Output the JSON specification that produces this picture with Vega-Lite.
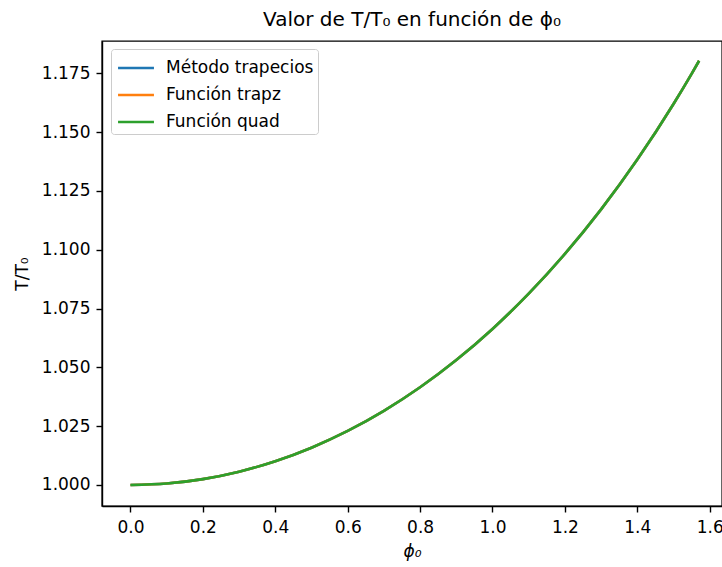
{
  "$schema": "https://vega.github.io/schema/vega-lite/v6.json",
  "autosize": {"type": "none"},
  "padding": {"left": 102, "top": 41, "right": 0, "bottom": 61},
  "width": 620,
  "height": 465,
  "background": "white",
  "title": {
    "text": "Valor de T/T₀ en función de ϕ₀",
    "font": "DejaVu Sans",
    "fontSize": 20,
    "fontWeight": "normal",
    "color": "black",
    "anchor": "middle",
    "baseline": "alphabetic",
    "offset": -5
  },
  "data": {
    "values": [
      {"phi": 0.0, "ratio": 1.0, "serie": "Método trapecios"},
      {"phi": 0.1, "ratio": 1.000625, "serie": "Método trapecios"},
      {"phi": 0.2, "ratio": 1.002506, "serie": "Método trapecios"},
      {"phi": 0.3, "ratio": 1.005654, "serie": "Método trapecios"},
      {"phi": 0.4, "ratio": 1.010093, "serie": "Método trapecios"},
      {"phi": 0.5, "ratio": 1.015853, "serie": "Método trapecios"},
      {"phi": 0.6, "ratio": 1.022975, "serie": "Método trapecios"},
      {"phi": 0.7, "ratio": 1.031514, "serie": "Método trapecios"},
      {"phi": 0.8, "ratio": 1.041531, "serie": "Método trapecios"},
      {"phi": 0.9, "ratio": 1.053106, "serie": "Método trapecios"},
      {"phi": 1.0, "ratio": 1.066334, "serie": "Método trapecios"},
      {"phi": 1.1, "ratio": 1.081324, "serie": "Método trapecios"},
      {"phi": 1.2, "ratio": 1.09821, "serie": "Método trapecios"},
      {"phi": 1.3, "ratio": 1.11715, "serie": "Método trapecios"},
      {"phi": 1.4, "ratio": 1.138326, "serie": "Método trapecios"},
      {"phi": 1.5, "ratio": 1.161966, "serie": "Método trapecios"},
      {"phi": 1.55, "ratio": 1.17479, "serie": "Método trapecios"},
      {"phi": 1.5708, "ratio": 1.18034, "serie": "Método trapecios"},
      {"phi": 0.0, "ratio": 1.0, "serie": "Función trapz"},
      {"phi": 0.1, "ratio": 1.000625, "serie": "Función trapz"},
      {"phi": 0.2, "ratio": 1.002506, "serie": "Función trapz"},
      {"phi": 0.3, "ratio": 1.005654, "serie": "Función trapz"},
      {"phi": 0.4, "ratio": 1.010093, "serie": "Función trapz"},
      {"phi": 0.5, "ratio": 1.015853, "serie": "Función trapz"},
      {"phi": 0.6, "ratio": 1.022975, "serie": "Función trapz"},
      {"phi": 0.7, "ratio": 1.031514, "serie": "Función trapz"},
      {"phi": 0.8, "ratio": 1.041531, "serie": "Función trapz"},
      {"phi": 0.9, "ratio": 1.053106, "serie": "Función trapz"},
      {"phi": 1.0, "ratio": 1.066334, "serie": "Función trapz"},
      {"phi": 1.1, "ratio": 1.081324, "serie": "Función trapz"},
      {"phi": 1.2, "ratio": 1.09821, "serie": "Función trapz"},
      {"phi": 1.3, "ratio": 1.11715, "serie": "Función trapz"},
      {"phi": 1.4, "ratio": 1.138326, "serie": "Función trapz"},
      {"phi": 1.5, "ratio": 1.161966, "serie": "Función trapz"},
      {"phi": 1.55, "ratio": 1.17479, "serie": "Función trapz"},
      {"phi": 1.5708, "ratio": 1.18034, "serie": "Función trapz"},
      {"phi": 0.0, "ratio": 1.0, "serie": "Función quad"},
      {"phi": 0.1, "ratio": 1.000625, "serie": "Función quad"},
      {"phi": 0.2, "ratio": 1.002506, "serie": "Función quad"},
      {"phi": 0.3, "ratio": 1.005654, "serie": "Función quad"},
      {"phi": 0.4, "ratio": 1.010093, "serie": "Función quad"},
      {"phi": 0.5, "ratio": 1.015853, "serie": "Función quad"},
      {"phi": 0.6, "ratio": 1.022975, "serie": "Función quad"},
      {"phi": 0.7, "ratio": 1.031514, "serie": "Función quad"},
      {"phi": 0.8, "ratio": 1.041531, "serie": "Función quad"},
      {"phi": 0.9, "ratio": 1.053106, "serie": "Función quad"},
      {"phi": 1.0, "ratio": 1.066334, "serie": "Función quad"},
      {"phi": 1.1, "ratio": 1.081324, "serie": "Función quad"},
      {"phi": 1.2, "ratio": 1.09821, "serie": "Función quad"},
      {"phi": 1.3, "ratio": 1.11715, "serie": "Función quad"},
      {"phi": 1.4, "ratio": 1.138326, "serie": "Función quad"},
      {"phi": 1.5, "ratio": 1.161966, "serie": "Función quad"},
      {"phi": 1.55, "ratio": 1.17479, "serie": "Función quad"},
      {"phi": 1.5708, "ratio": 1.18034, "serie": "Función quad"}
    ]
  },
  "mark": {"type": "line", "strokeWidth": 2.6, "interpolate": "monotone", "clip": true},
  "encoding": {
    "x": {
      "field": "phi",
      "type": "quantitative",
      "scale": {"domain": [-0.0787, 1.6340], "nice": false, "zero": false},
      "axis": {
        "title": "ϕ₀",
        "titleFontStyle": "italic",
        "values": [0, 0.2, 0.4, 0.6, 0.8, 1.0, 1.2, 1.4, 1.6],
        "format": ".1f",
        "labelPadding": 7,
        "titlePadding": 8,
        "labelFlush": false,
        "labelOverlap": false
      }
    },
    "y": {
      "field": "ratio",
      "type": "quantitative",
      "scale": {"domain": [0.99107, 1.18873], "nice": false, "zero": false},
      "axis": {
        "title": "T/T₀",
        "values": [1.0, 1.025, 1.05, 1.075, 1.1, 1.125, 1.15, 1.175],
        "format": ".3f",
        "labelPadding": 6,
        "titlePadding": 10,
        "labelOverlap": false
      }
    },
    "color": {
      "field": "serie",
      "type": "nominal",
      "sort": ["Método trapecios", "Función trapz", "Función quad"],
      "scale": {
        "domain": ["Método trapecios", "Función trapz", "Función quad"],
        "range": ["#1f77b4", "#ff7f0e", "#2ca02c"]
      },
      "legend": {
        "title": null,
        "orient": "none",
        "legendX": 9,
        "legendY": 8,
        "symbolType": "M-1.33,0H1.33",
        "symbolSize": 729,
        "symbolStrokeWidth": 2.6,
        "symbolOffset": 6,
        "labelFont": "DejaVu Sans",
        "labelFontSize": 17,
        "labelColor": "black",
        "labelOffset": 15,
        "rowPadding": 4,
        "padding": 4,
        "strokeColor": "#cccccc",
        "fillColor": "rgba(255,255,255,0.8)",
        "cornerRadius": 3
      }
    }
  },
  "config": {
    "font": "DejaVu Sans",
    "view": {"stroke": "black", "strokeWidth": 1.4},
    "axis": {
      "grid": false,
      "domainColor": "black",
      "domainWidth": 1.4,
      "tickColor": "black",
      "tickWidth": 1.4,
      "tickSize": 6,
      "labelColor": "black",
      "labelFont": "DejaVu Sans",
      "labelFontSize": 17,
      "titleColor": "black",
      "titleFont": "DejaVu Sans",
      "titleFontSize": 17,
      "titleFontWeight": "normal"
    }
  }
}
